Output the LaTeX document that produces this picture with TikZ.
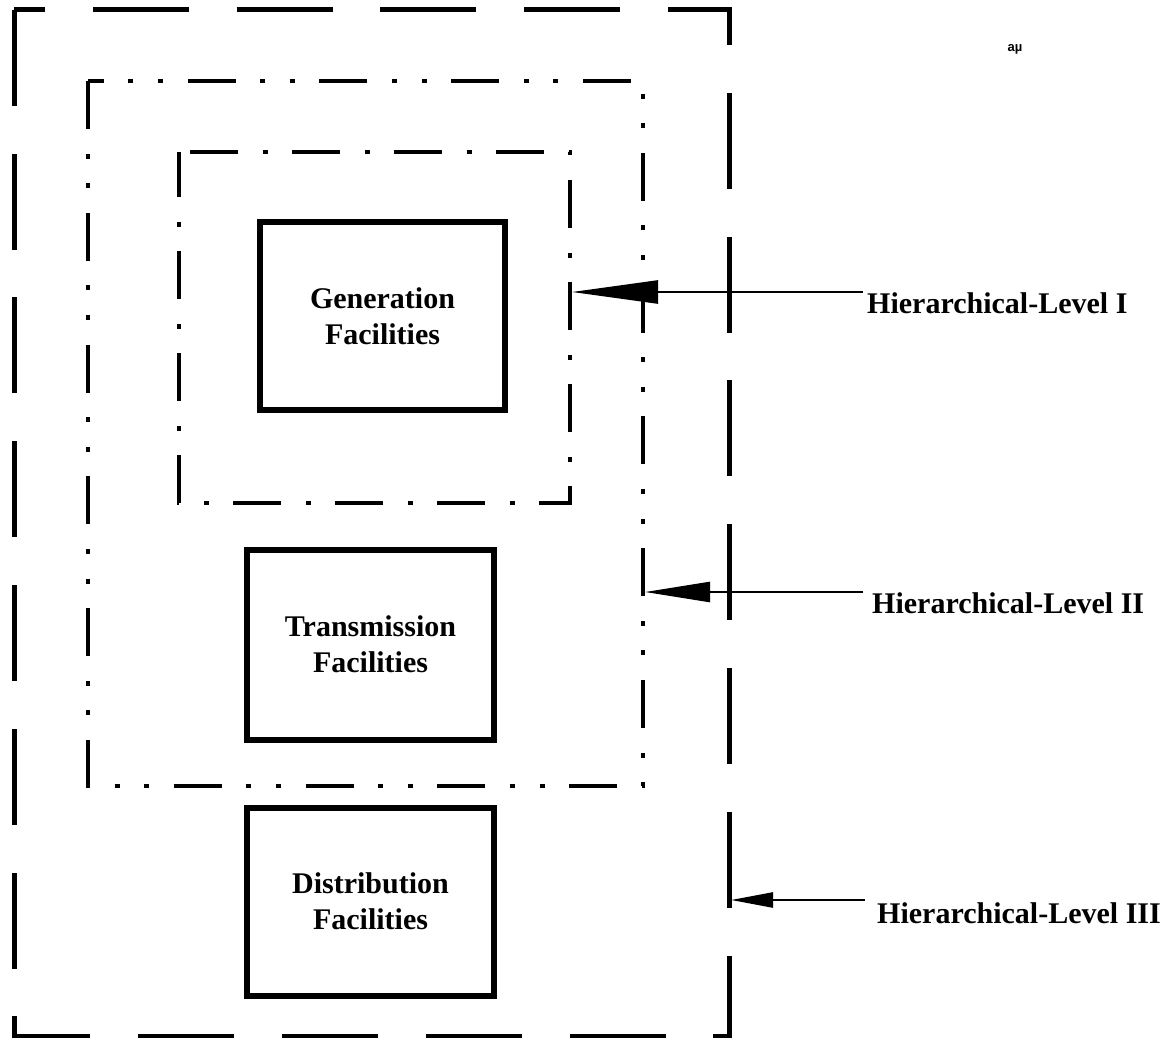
\documentclass[tikz,border=0pt]{standalone}
\usepackage{fontspec}
\setmainfont{Liberation Serif}
\newfontfamily\smallsans{Liberation Sans}
\usetikzlibrary{arrows.meta}

\tikzset{
  facility/.style={draw, line width=6pt, minimum width=247pt, minimum height=190pt,
    align=center, inner sep=0pt, font=\fontsize{30}{36}\selectfont\bfseries},
  levellabel/.style={anchor=west, inner sep=0pt, font=\fontsize{30}{36}\selectfont\bfseries},
  levelthree/.style={line width=5pt, dash pattern=on 96pt off 47.8pt, dash phase=65pt},
  leveltwo/.style={line width=4.5pt,
    dash pattern=on 48pt off 24.6pt on 5pt off 24.6pt on 5pt off 24.6pt},
  levelone/.style={line width=4.5pt, dash pattern=on 48pt off 24.5pt on 5pt off 24.5pt,
    dash phase=91pt},
  pointer/.style={line width=2.5pt}
}

\begin{document}
\begin{tikzpicture}[x=1pt,y=-1pt]
\useasboundingbox (0,0) rectangle (1168,1038);

% nested level frames
\draw[levelthree] (14,10) -- (729,10) -- (729,1036) -- (14,1036) -- cycle;
\draw[leveltwo] (88,81) -- (88,786) -- (643,786) -- (643,81) -- cycle;
\draw[levelone] (179,152) -- (570,152) -- (570,503) -- (179,503) -- cycle;

% facility boxes
\node[facility, minimum width=245pt, minimum height=188pt] (gen) at (382.5,316) {Generation\\Facilities};
\node[facility] (trans) at (370.5,644.5) {Transmission\\Facilities};
\node[facility, minimum height=188pt] (dist) at (370.5,901.5) {Distribution\\Facilities};

% arrow targets on the frames and line starts by the labels
\coordinate (t1) at (572,292);
\coordinate (t2) at (645,592);
\coordinate (t3) at (731,900);
\coordinate (s1) at (863,292);
\coordinate (s2) at (863,592);
\coordinate (s3) at (865,900);

\node[levellabel] (lab1) at (867,303) {Hierarchical-Level I};
\node[levellabel] (lab2) at (872,603) {Hierarchical-Level II};
\node[levellabel] (lab3) at (877,913) {Hierarchical-Level III};

\draw[pointer, -{Triangle[length=86pt,width=23pt]}] (s1) -- (t1);
\draw[pointer, -{Triangle[length=65pt,width=20pt]}] (s2) -- (t2);
\draw[pointer, -{Triangle[length=42pt,width=15pt]}] (s3) -- (t3);

\node[font=\smallsans\bfseries\fontsize{13}{15}\selectfont, inner sep=0pt] (mark) at (1015,49) {aµ};
\end{tikzpicture}
\end{document}
